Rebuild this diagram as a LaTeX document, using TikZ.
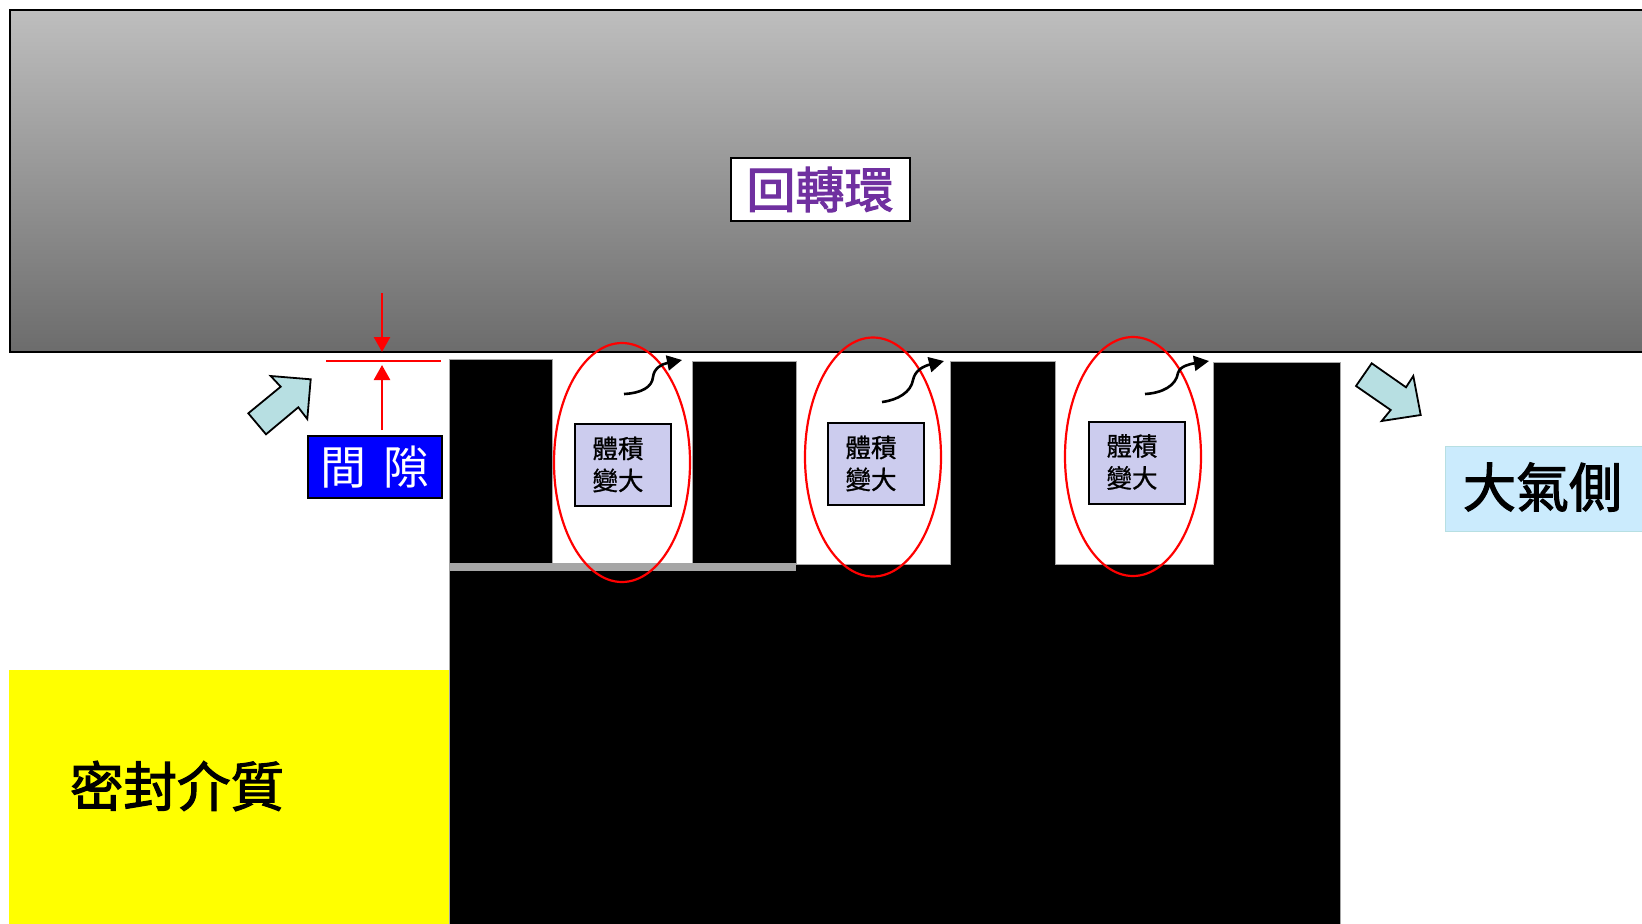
\documentclass[tikz,border=0pt]{standalone}
\usepackage{fontspec}
\setmainfont{Noto Sans CJK TC}
\newfontfamily\semifont[FakeBold=2.2]{Noto Sans CJK TC}
\newfontfamily\thinfont[FakeBold=0.9]{Noto Sans CJK TC}
\usetikzlibrary{arrows.meta,shapes.geometric}
\definecolor{ringtop}{HTML}{BEBEBE}
\definecolor{ringbot}{HTML}{6C6C6C}
\definecolor{barcol}{HTML}{A6A6A6}
\definecolor{volfill}{HTML}{CCCCEE}
\definecolor{flowfill}{HTML}{B7DFE2}
\definecolor{airfill}{HTML}{CBEBFD}
\definecolor{ringtext}{HTML}{7030A0}
\definecolor{mediumfill}{HTML}{FFFF00}
\definecolor{gapfill}{HTML}{0000FF}
\definecolor{ellred}{HTML}{FF0000}
\tikzset{
  x=1pt,y=-1pt,
  tooth/.style={fill=black,draw=barcol,line width=0.6pt},
  volbox/.style={draw=black,fill=volfill,line width=2pt,minimum width=96pt,minimum height=82pt,inner sep=0pt},
  voltext/.style={align=center,inner sep=0pt,font=\thinfont\fontsize{25.5}{32}\selectfont},
  redell/.style={ellipse,draw=ellred,line width=2.2pt,minimum width=136pt,minimum height=239pt,inner sep=0pt},
  flowarrow/.style={fill=flowfill,draw=black,line width=1.8pt,line join=miter},
  gaparrow/.style={draw=ellred,line width=2.6pt,-{Triangle[length=15pt,width=16pt]}},
  leakarrow/.style={draw=black,line width=2.6pt,-{Triangle[length=15pt,width=15pt]}},
}
\begin{document}
\begin{tikzpicture}
\useasboundingbox (0,0) rectangle (1642,924);
\clip (0,0) rectangle (1642,924);
\fill[white] (0,0) rectangle (1642,924);
% rotating ring
\shade[top color=ringtop,bottom color=ringbot] (10,10) rectangle (1660,352);
\draw[black,line width=2pt] (1660,10) -- (10,10) -- (10,352) -- (1660,352);
% labyrinth body
\fill[mediumfill] (9,670) rectangle (449,924);
\path[tooth] (449,924) -- (449,359.5) -- (552.5,359.5) -- (552.5,564) -- (692.5,564) -- (692.5,361) -- (796.5,361) -- (796.5,564) -- (950.5,564) -- (950.5,361) -- (1055,361) -- (1055,564) -- (1213,564) -- (1213,362.5) -- (1340.5,362.5) -- (1340.5,924) -- cycle;
\fill[barcol] (449,563) rectangle (796,571);
% gap
\coordinate (gapleft) at (326,361);
\coordinate (gapright) at (441,361);
\coordinate (gaptopstart) at (382,293);
\coordinate (gaptopend) at (382,352);
\coordinate (gapbotstart) at (382,430);
\coordinate (gapbotend) at (382,365);
\draw[ellred,line width=1.6pt] (gapleft) -- (gapright);
\draw[gaparrow] (gaptopstart) -- (gaptopend);
\draw[gaparrow] (gapbotstart) -- (gapbotend);
% labels
\node[draw=black,fill=white,line width=2pt,minimum width=179pt,minimum height=62.5pt,inner sep=0pt,text=ringtext,font=\semifont\fontsize{49}{49}\selectfont] (ring) at (820,189.5) {回轉環};
\node[draw=black,fill=gapfill,line width=2pt,minimum width=134.5pt,minimum height=62.5pt,inner sep=0pt,text=white,font=\fontsize{46}{46}\selectfont] (gap) at (375,467) {間 \hspace{7pt}隙};
\node[fill=airfill,draw=flowfill,line width=1.4pt,minimum width=210pt,minimum height=85pt,inner sep=0pt,anchor=west] (air) at (1445,489) {};
\node[font=\semifont\fontsize{53}{53}\selectfont] (airtext) at (1542.5,487) {大氣側};
\node[font=\semifont\fontsize{53.5}{53.5}\selectfont] (medium) at (177,786) {密封介質};
% flow arrows
\path[flowarrow] (248.3,413.3) -- (266,434.3) -- (298.3,407.3) -- (307.3,419) -- (310.7,379.3) -- (270.7,376) -- (280.7,386.7) -- cycle;
\path[flowarrow] (1371.7,363.3) -- (1406,387.3) -- (1413.3,376) -- (1420.7,415) -- (1381.7,421) -- (1390.7,410) -- (1356,386) -- cycle;
% chambers
\node[volbox] (v1) at (622.7,465) {};
\node[volbox] (v2) at (875.7,464) {};
\node[volbox] (v3) at (1136.7,462.5) {};
\node[voltext] (t1) at (618,464.5) {體積\\變大};
\node[voltext] (t2) at (871,463.5) {體積\\變大};
\node[voltext] (t3) at (1132,462) {體積\\變大};
\node[redell] (e1) at (622,462.5) {};
\node[redell] (e2) at (873,457) {};
\node[redell] (e3) at (1133,456.5) {};
% leakage curves
\coordinate (a1s) at (624,394);
\coordinate (a1t) at (682,360);
\coordinate (a2s) at (882,402);
\coordinate (a2t) at (944,361);
\coordinate (a3s) at (1145,394);
\coordinate (a3t) at (1209,361);
\draw[leakarrow] (a1s) .. controls (642,393) and (652,387) .. (653,377) .. controls (654,368) and (662,364) .. (a1t);
\draw[leakarrow] (a2s) .. controls (898,400) and (911,392) .. (913,380) .. controls (915,370) and (924,366) .. (a2t);
\draw[leakarrow] (a3s) .. controls (1162,393) and (1176,386) .. (1178,373) .. controls (1180,366) and (1190,364) .. (a3t);
\end{tikzpicture}
\end{document}
